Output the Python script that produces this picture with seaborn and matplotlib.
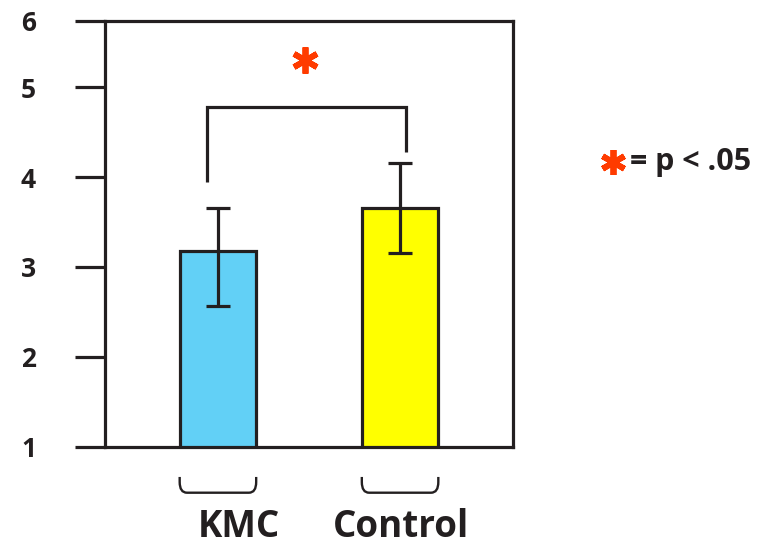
import matplotlib
matplotlib.use("Agg")
import matplotlib.pyplot as plt
import matplotlib.transforms as mtransforms
from matplotlib.path import Path
from matplotlib.patches import PathPatch
import pandas as pd
import seaborn as sns

# Group means with asymmetric error bars
groups = ["KMC", "Control"]
means = [3.18, 3.66]
err_low = [0.61, 0.51]
err_high = [0.48, 0.50]
bar_colors = ["#62D0F6", "#FFFF00"]

# Axis scale and labels
ytick_values = [1, 2, 3, 4, 5]
ytick_labels = ["1", "2", "3", "4", "5", "6"]
y_bottom, y_top = 1, 5.74

# Significance bracket
bracket_y = 4.78
bracket_left_end = 3.95
bracket_right_end = 4.28
star_y = 5.30
sig_note = "= p < .05"

sns.set_style("white")
plt.rcParams["font.family"] = ["Open Sans", "DejaVu Sans"]

ink = "#231F20"
star_color = "#FF3B00"
lw = 2.3

fig = plt.figure(figsize=(7.61, 5.47), dpi=100)
ax = fig.add_axes([105 / 761, 1 - 446.7 / 547, (513 - 105) / 761, 426 / 547])

df = pd.DataFrame({"group": groups, "mean": means})
sns.barplot(data=df, x="group", y="mean", hue="group", order=groups,
            hue_order=groups, palette=bar_colors, saturation=1, width=0.42,
            edgecolor=ink, linewidth=lw, errorbar=None, legend=False, ax=ax)

xpos = list(range(len(groups)))
ax.errorbar(xpos, means, yerr=[err_low, err_high], fmt="none", ecolor=ink,
            elinewidth=lw, capsize=8.5, capthick=lw, zorder=5)

# Bracket between groups and the significance star
ax.plot([-0.06, -0.06, 1.03, 1.03],
        [bracket_left_end, bracket_y, bracket_y, bracket_right_end],
        color=ink, lw=lw, solid_joinstyle="miter", solid_capstyle="butt")
ax.plot(0.48, star_y, marker=(6, 2, 0), ms=19, mew=4.2, color=star_color,
        clip_on=False)

ax.set_xlim(-0.62, 1.62)
ax.set_ylim(y_bottom, y_top)
ax.set_xticks([])
ax.set_xlabel("")
ax.set_ylabel("")
ax.set_yticks(ytick_values + [y_top])
ax.set_yticklabels(ytick_labels)
ax.tick_params(axis="y", direction="out", length=21.6, width=lw, pad=28,
               labelsize=19, color=ink, labelcolor=ink, left=True)
for lab in ax.get_yticklabels():
    lab.set_fontweight("bold")

for s in ax.spines.values():
    s.set_visible(True)
    s.set_color(ink)
    s.set_linewidth(lw)

# Rounded brackets under each bar with group names
blend = mtransforms.blended_transform_factory(ax.transData, ax.transAxes)
half = 0.21
y_hi, y_lo = -0.071, -0.108
rx, ry = 0.04, 0.025
for i, name in enumerate(groups):
    xl, xr = i - half, i + half
    verts = [(xl, y_hi), (xl, y_lo + ry), (xl, y_lo), (xl + rx, y_lo),
             (xr - rx, y_lo), (xr, y_lo), (xr, y_lo + ry), (xr, y_hi)]
    codes = [Path.MOVETO, Path.LINETO, Path.CURVE3, Path.CURVE3,
             Path.LINETO, Path.CURVE3, Path.CURVE3, Path.LINETO]
    ax.add_patch(PathPatch(Path(verts, codes), transform=blend, fill=False,
                           edgecolor=ink, lw=1.7, clip_on=False))

label_x = [0.115, 1.005]
for x, name in zip(label_x, groups):
    ax.text(x, -0.212, name, transform=blend, ha="center", va="baseline",
            fontsize=26.5, fontweight="bold", color=ink)

# Note explaining the star
fig.lines.append(plt.Line2D([613 / 761], [1 - 162 / 547], marker=(6, 2, 0),
                            ms=18, mew=4.2, color=star_color,
                            transform=fig.transFigure))
fig.text(630 / 761, 1 - 162 / 547, sig_note, ha="left", va="center",
         fontsize=22, fontweight="bold", color=ink)

fig.savefig("out.png", dpi=100)
